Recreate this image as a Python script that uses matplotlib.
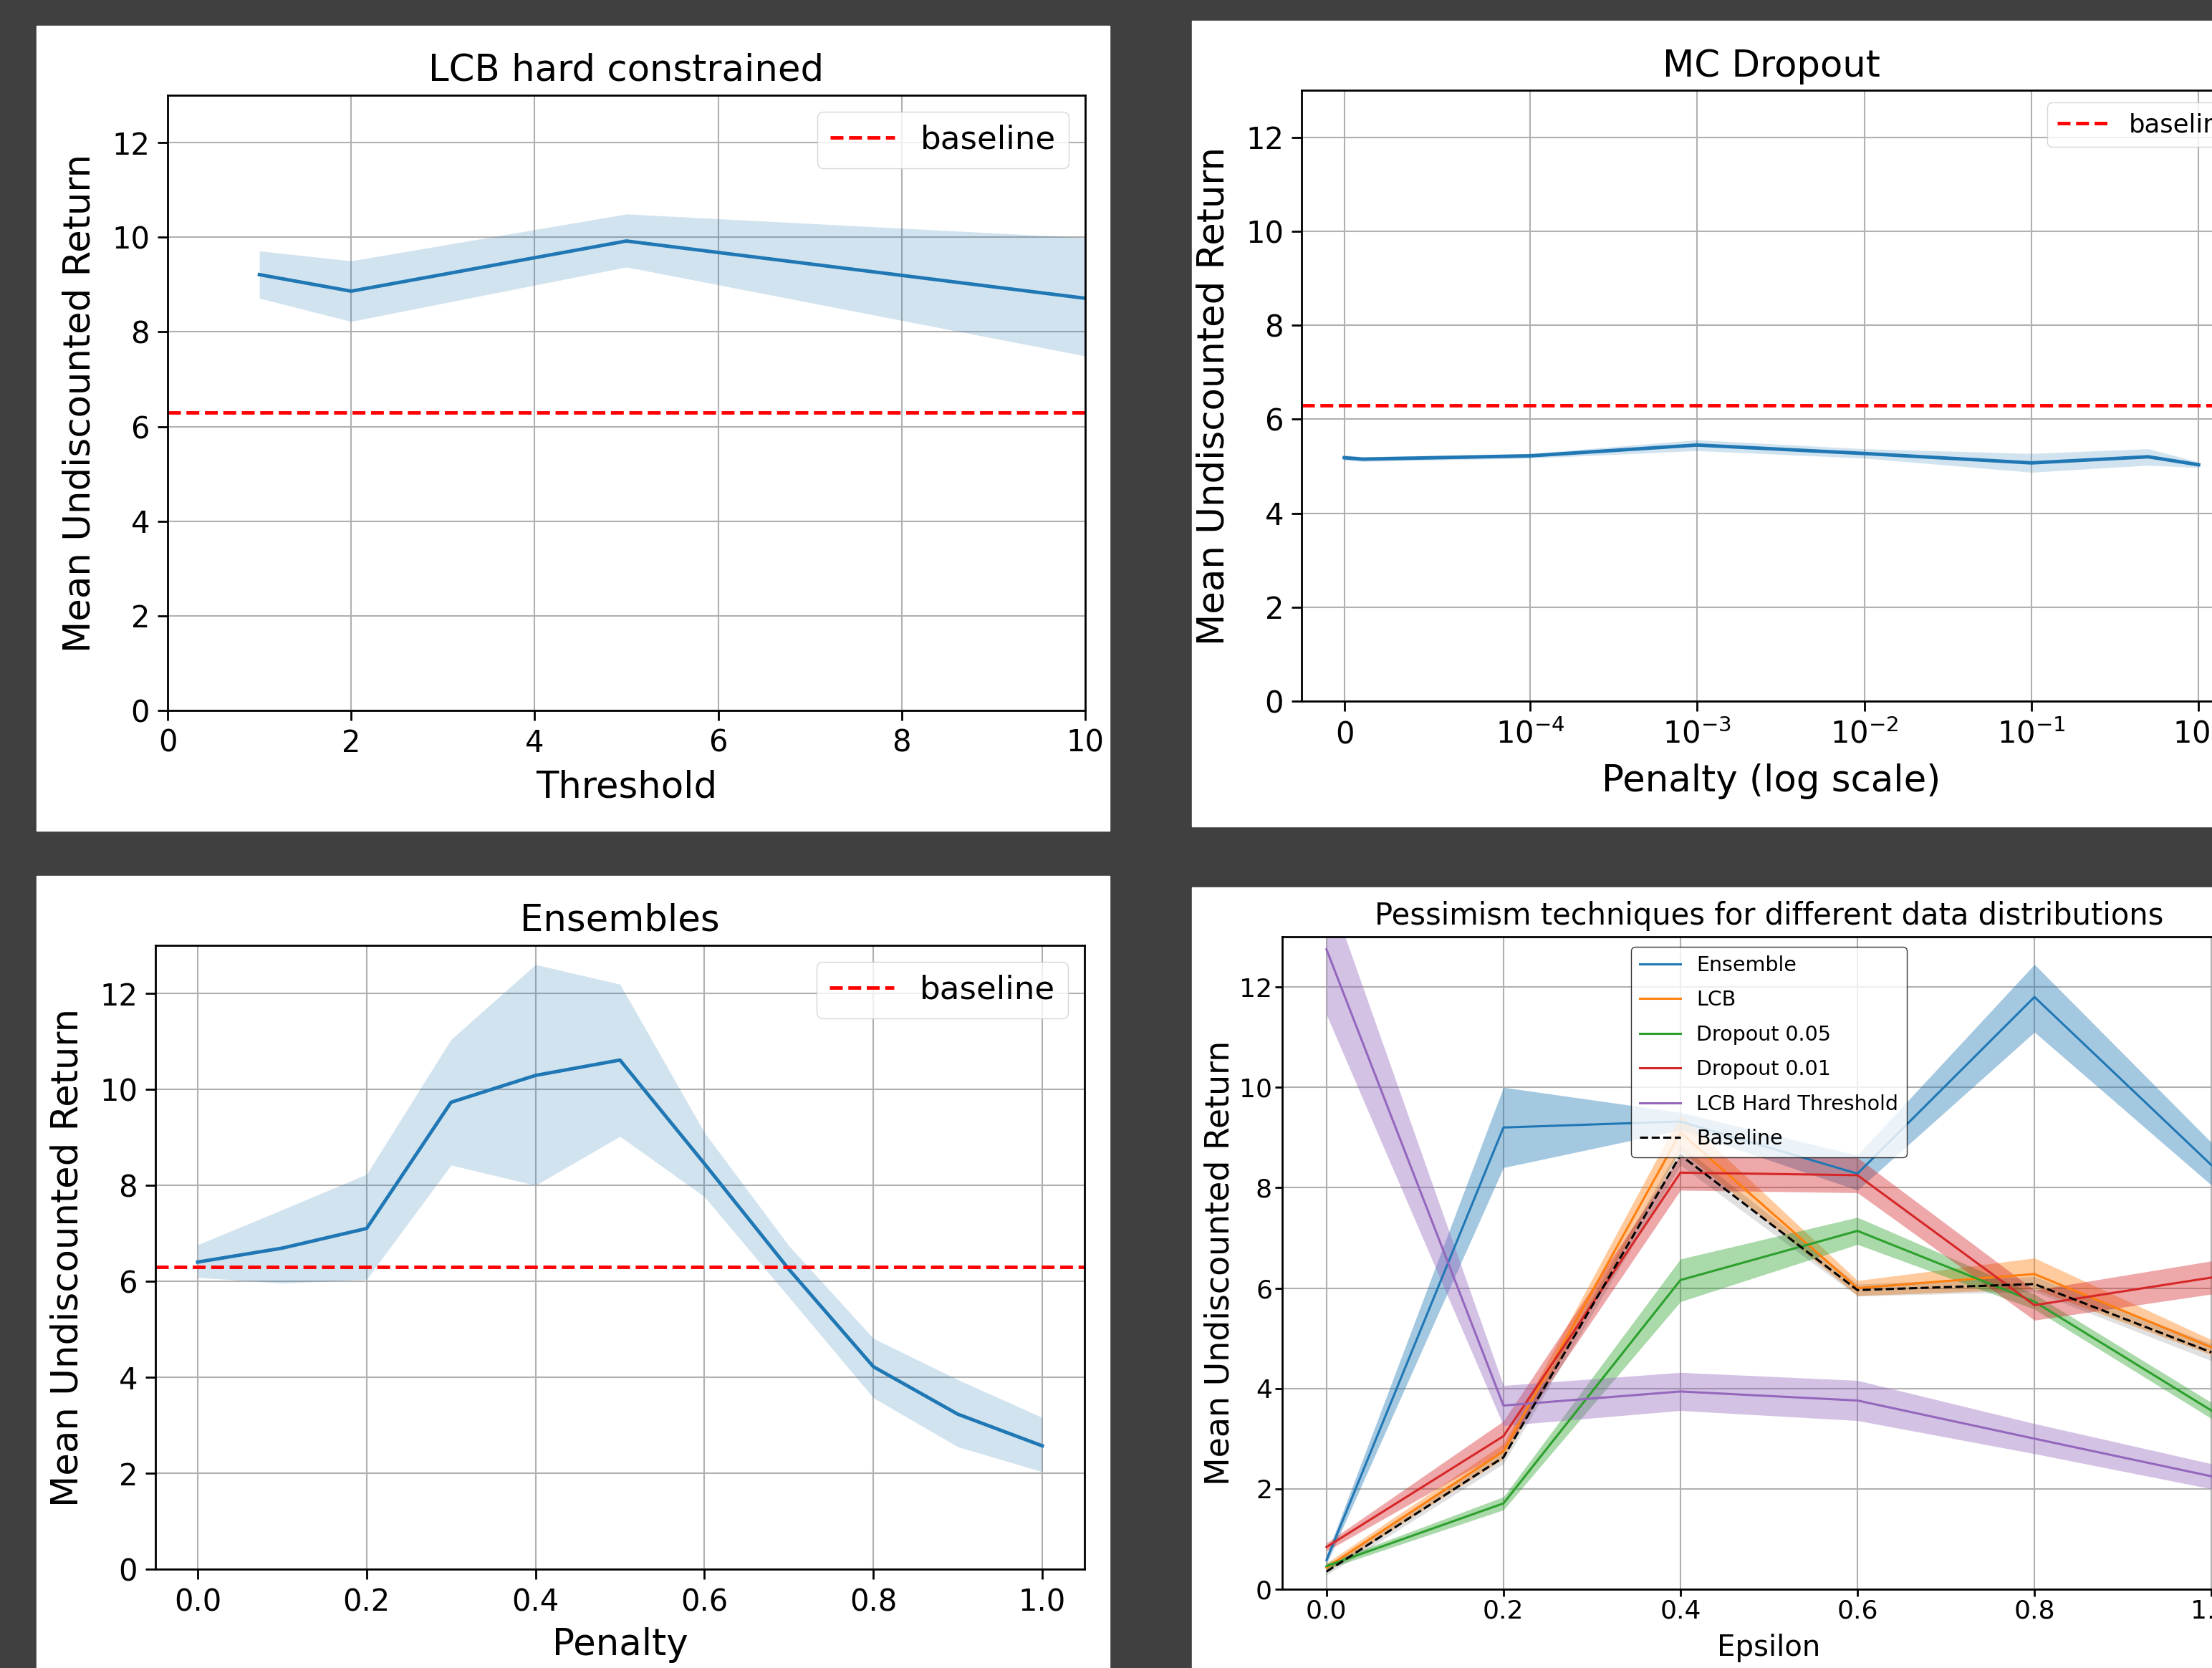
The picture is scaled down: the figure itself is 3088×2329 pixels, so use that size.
import matplotlib
matplotlib.use("Agg")
import matplotlib.pyplot as plt
import numpy as np

W, H = 3088, 2329

# ---- data ----
baseline_value = 6.3

# LCB hard constrained
thr_x = [1, 2, 5, 10]
thr_mean = [9.21, 8.86, 9.92, 8.71]
thr_lo = [8.71, 8.22, 9.37, 7.49]
thr_hi = [9.71, 9.50, 10.49, 9.99]

# MC Dropout
mc_x = [0, 1e-5, 1e-4, 1e-3, 1e-2, 1e-1, 0.5, 1.0]
mc_mean = [5.18, 5.15, 5.22, 5.45, 5.27, 5.07, 5.20, 5.03]
mc_lo = [5.12, 5.10, 5.17, 5.33, 5.17, 4.87, 5.02, 4.97]
mc_hi = [5.24, 5.20, 5.27, 5.56, 5.37, 5.27, 5.37, 5.09]

# Ensembles
ens_x = [0.0, 0.1, 0.2, 0.3, 0.4, 0.5, 0.6, 0.7, 0.8, 0.9, 1.0]
ens_mean = [6.40, 6.69, 7.10, 9.73, 10.29, 10.61, 8.45, 6.25, 4.22, 3.23, 2.57]
ens_lo = [6.08, 5.96, 6.04, 8.42, 8.00, 9.02, 7.76, 5.67, 3.57, 2.55, 2.03]
ens_hi = [6.76, 7.49, 8.23, 11.04, 12.60, 12.19, 9.10, 6.74, 4.81, 3.95, 3.16]

# Pessimism techniques vs epsilon
eps = [0.0, 0.2, 0.4, 0.6, 0.8, 1.0]
names = ["Ensemble", "LCB", "Dropout 0.05", "Dropout 0.01", "LCB Hard Threshold", "Baseline"]
means = [
    [0.58, 9.20, 9.32, 8.28, 11.80, 8.45],
    [0.43, 2.75, 9.10, 6.00, 6.28, 4.82],
    [0.46, 1.71, 6.16, 7.14, 5.73, 3.56],
    [0.84, 3.05, 8.30, 8.25, 5.66, 6.21],
    [12.75, 3.66, 3.94, 3.76, 3.00, 2.25],
    [0.35, 2.63, 8.65, 5.96, 6.08, 4.72],
]
lows = [
    [0.50, 8.40, 9.15, 7.95, 11.10, 8.05],
    [0.35, 2.60, 8.75, 5.85, 5.98, 4.67],
    [0.40, 1.58, 5.73, 6.87, 5.58, 3.40],
    [0.76, 2.75, 7.95, 7.90, 5.36, 5.88],
    [11.45, 3.26, 3.56, 3.36, 2.70, 2.00],
    [0.28, 2.50, 8.45, 5.84, 5.93, 4.55],
]
highs = [
    [0.68, 10.00, 9.50, 8.65, 12.45, 8.90],
    [0.52, 2.90, 9.45, 6.15, 6.60, 4.97],
    [0.52, 1.84, 6.58, 7.41, 5.88, 3.72],
    [0.92, 3.35, 8.65, 8.60, 5.96, 6.54],
    [14.05, 4.06, 4.32, 4.16, 3.30, 2.50],
    [0.42, 2.76, 8.85, 6.08, 6.23, 4.89],
]
colors = ["tab:blue", "tab:orange", "tab:green", "tab:red", "tab:purple", "black"]


def box(l, t, r, b):
    return [l / W, 1 - b / H, (r - l) / W, (b - t) / H]


def style(ax, tick_fs, length=10, pad=8):
    ax.grid(True, color="#b0b0b0", lw=1.5)
    ax.set_axisbelow(True)
    ax.tick_params(labelsize=tick_fs, length=length, width=2, pad=pad)
    for s in ax.spines.values():
        s.set_linewidth(2)
    ax.set_ylim(0, 13)
    ax.set_yticks([0, 2, 4, 6, 8, 10, 12])


fig = plt.figure(figsize=(W / 100, H / 100), dpi=100)
fig.patch.set_facecolor("#404040")

# white screenshot panels
for (l, t, r, b) in [(51, 36, 1549, 1160), (1664, 29, 3088, 1154),
                     (51, 1223, 1549, 2329), (1664, 1239, 3088, 2329)]:
    fig.add_artist(plt.Rectangle((l / W, 1 - b / H), (r - l) / W, (b - t) / H,
                                 transform=fig.transFigure, color="white", zorder=-1))

# top left
ax1 = fig.add_axes(box(234, 133, 1515, 992))
ax1.fill_between(thr_x, thr_lo, thr_hi, color="tab:blue", alpha=0.2, lw=0)
ax1.plot(thr_x, thr_mean, color="tab:blue", lw=3.5)
ax1.axhline(baseline_value, color="red", ls="--", lw=3.5, label="baseline")
ax1.set_xlim(0, 10)
style(ax1, 30)
ax1.set_title("LCB hard constrained", fontsize=37, pad=15)
ax1.set_xlabel("Threshold", fontsize=37, labelpad=11)
ax1.set_ylabel("Mean Undiscounted Return", fontsize=37, labelpad=14)
ax1.legend(loc="upper right", fontsize=32.5)

# top right
ax2 = fig.add_axes(box(1817, 126, 3129, 979))
ax2.set_xscale("symlog", linthresh=1e-4)
ax2.fill_between(mc_x, mc_lo, mc_hi, color="tab:blue", alpha=0.2, lw=0)
ax2.plot(mc_x, mc_mean, color="tab:blue", lw=3.5)
ax2.axhline(baseline_value, color="red", ls="--", lw=3.5, label="baseline")
ax2.set_xticks([0, 1e-4, 1e-3, 1e-2, 1e-1, 1])
ax2.minorticks_off()
style(ax2, 30)
ax2.set_title("MC Dropout", fontsize=37, pad=14)
ax2.set_xlabel("Penalty (log scale)", fontsize=37, labelpad=14)
ax2.set_ylabel("Mean Undiscounted Return", fontsize=37, labelpad=14)
ax2.legend(loc="upper left", bbox_to_anchor=(0.7934, 0.98), borderaxespad=0, fontsize=25.5)

# bottom left
ax3 = fig.add_axes(box(217, 1320, 1514, 2191))
ax3.fill_between(ens_x, ens_lo, ens_hi, color="tab:blue", alpha=0.2, lw=0)
ax3.plot(ens_x, ens_mean, color="tab:blue", lw=3.5)
ax3.axhline(baseline_value, color="red", ls="--", lw=3.5, label="baseline")
ax3.set_xlim(-0.05, 1.05)
ax3.set_xticks([0.0, 0.2, 0.4, 0.6, 0.8, 1.0])
style(ax3, 30)
ax3.set_title("Ensembles", fontsize=37, pad=15)
ax3.set_xlabel("Penalty", fontsize=37, labelpad=10)
ax3.set_ylabel("Mean Undiscounted Return", fontsize=37, labelpad=14)
ax3.legend(loc="upper right", fontsize=32.5)

# bottom right
ax4 = fig.add_axes(box(1790, 1308, 3149, 2219))
for name, m, lo, hi, c in zip(names, means, lows, highs, colors):
    if name == "Baseline":
        ax4.fill_between(eps, lo, hi, color="black", alpha=0.12, lw=0)
        ax4.plot(eps, m, color="black", ls="--", lw=2.2, label=name)
    else:
        ax4.fill_between(eps, lo, hi, color=c, alpha=0.4, lw=0)
        ax4.plot(eps, m, color=c, lw=2.2, label=name)
ax4.set_xlim(-0.05, 1.05)
ax4.set_xticks([0.0, 0.2, 0.4, 0.6, 0.8, 1.0])
style(ax4, 26, length=7, pad=3)
ax4.set_title("Pessimism techniques for different data distributions", fontsize=30, pad=12)
ax4.set_xlabel("Epsilon", fontsize=29, labelpad=10)
ax4.set_ylabel("Mean Undiscounted Return", fontsize=33, labelpad=3)
leg = ax4.legend(loc="upper center", fontsize=20.5, labelspacing=0.72)
leg.get_frame().set_edgecolor("black")

fig.savefig("out.png", dpi=100, facecolor=fig.get_facecolor())
